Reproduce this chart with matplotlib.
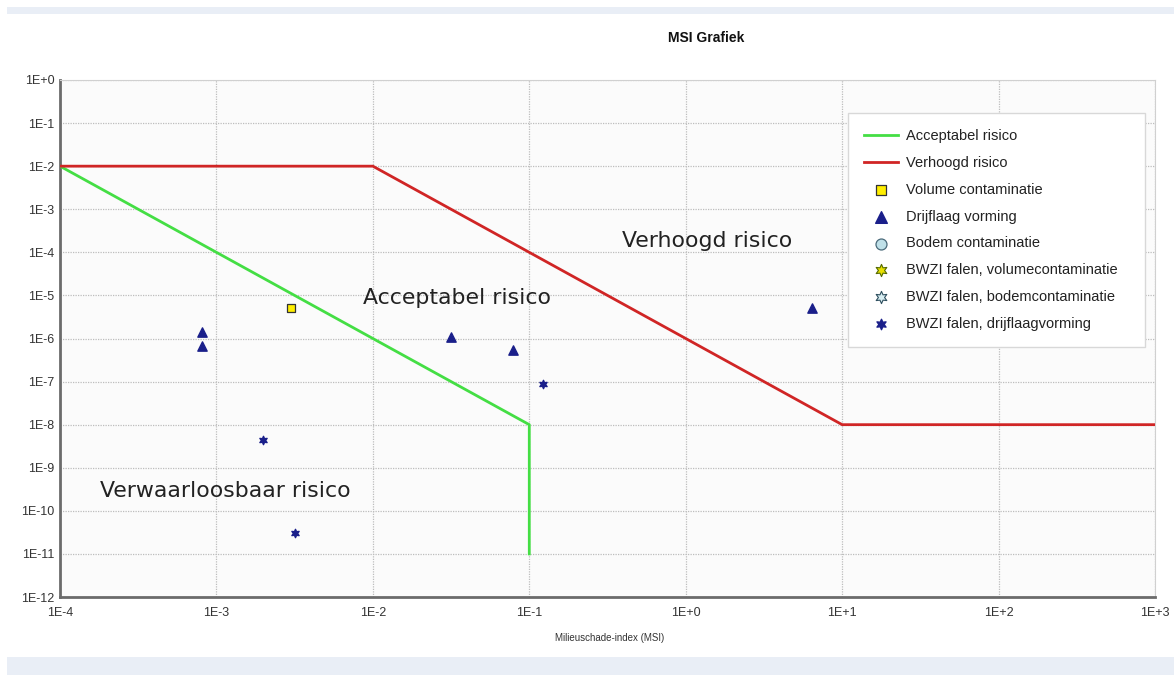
import matplotlib
matplotlib.use("Agg")
import matplotlib.pyplot as plt
from matplotlib.patches import Rectangle
from matplotlib.ticker import FixedLocator, NullLocator

NARROW = ['Liberation Sans', 'DejaVu Sans']

# Risk boundary lines
accept_x = [1e-4, 1e-1, 1e-1]
accept_y = [1e-2, 1e-8, 1e-11]
verhoogd_x = [1e-4, 1e-2, 1e1, 1e3]
verhoogd_y = [1e-2, 1e-2, 1e-8, 1e-8]

# Scenario points
volume_x = [3.0e-3]
volume_y = [5.0e-6]
drijf_x = [8.1e-4, 8.1e-4, 3.16e-2, 7.9e-2, 6.4]
drijf_y = [1.4e-6, 6.7e-7, 1.1e-6, 5.5e-7, 5.1e-6]
bodem_x = []
bodem_y = []
bwzi_vol_x = []
bwzi_vol_y = []
bwzi_bodem_x = []
bwzi_bodem_y = []
bwzi_drijf_x = [0.122, 1.99e-3, 3.2e-3]
bwzi_drijf_y = [8.9e-8, 4.4e-9, 3.1e-11]

x_ticks = [1e-4, 1e-3, 1e-2, 1e-1, 1e0, 1e1, 1e2, 1e3]
x_ticklabels = ['1E-4', '1E-3', '1E-2', '1E-1', '1E+0', '1E+1', '1E+2', '1E+3']
y_ticks = [10.0 ** (-k) for k in range(0, 13)]
y_ticklabels = ['1E+0'] + ['1E-%d' % k for k in range(1, 13)]

W, H = 1174, 675
fig = plt.figure(figsize=(W / 100, H / 100), dpi=100)
fig.patch.set_facecolor('white')

# light bands of the screenshot frame
fig.patches.append(Rectangle((7 / W, 1 - 14 / H), 1 - 7 / W, 7 / H, transform=fig.transFigure,
                             facecolor='#e9eef6', edgecolor='none'))
fig.patches.append(Rectangle((7 / W, 0), 1 - 7 / W, 18 / H, transform=fig.transFigure,
                             facecolor='#e9eef6', edgecolor='none'))

ax = fig.add_axes([60 / W, 1 - 597 / H, (1155 - 60) / W, (597 - 80) / H])
ax.set_facecolor('#fbfbfb')
ax.set_xscale('log')
ax.set_yscale('log')
ax.set_xlim(1e-4, 1e3)
ax.set_ylim(1e-12, 1e0)

ax.xaxis.set_major_locator(FixedLocator(x_ticks))
ax.yaxis.set_major_locator(FixedLocator(y_ticks))
ax.xaxis.set_minor_locator(NullLocator())
ax.yaxis.set_minor_locator(NullLocator())
ax.set_xticklabels(x_ticklabels, fontsize=9, family=NARROW, color='#333333')
ax.set_yticklabels(y_ticklabels, fontsize=9, family=NARROW, color='#333333')
ax.tick_params(axis='both', length=0, pad=4)
ax.tick_params(axis='x', pad=7)

ax.grid(True, which='major', color='#bdbdbd', linestyle=(0, (1, 1)), linewidth=0.9)
ax.set_axisbelow(True)

for s in ['left', 'bottom']:
    ax.spines[s].set_color('#6b6b6b')
    ax.spines[s].set_linewidth(2.0)
for s in ['top', 'right']:
    ax.spines[s].set_color('#d0d0d0')
    ax.spines[s].set_linewidth(0.8)

ax.plot(accept_x, accept_y, color='#44de44', lw=2.0, label='Acceptabel risico', zorder=3)
ax.plot(verhoogd_x, verhoogd_y, color='#d02525', lw=2.0, label='Verhoogd risico', zorder=3)

ax.scatter(volume_x, volume_y, marker='s', s=40, facecolor='#ffee00', edgecolor='#333333',
           linewidth=0.9, label='Volume contaminatie', zorder=4)
ax.scatter(drijf_x, drijf_y, marker='^', s=45, color='#1a1f8a', label='Drijflaag vorming', zorder=4)
ax.scatter(bodem_x, bodem_y, marker='o', s=40, facecolor='#bfe0e8', edgecolor='#4a6a7a',
           linewidth=0.9, label='Bodem contaminatie', zorder=4)
ax.scatter(bwzi_vol_x, bwzi_vol_y, marker=(6, 1, 0), s=50, facecolor='#e8e000', edgecolor='#556b00',
           linewidth=0.8, label='BWZI falen, volumecontaminatie', zorder=4)
ax.scatter(bwzi_bodem_x, bwzi_bodem_y, marker=(6, 1, 0), s=50, facecolor='#d8eef2', edgecolor='#2f4f5f',
           linewidth=0.8, label='BWZI falen, bodemcontaminatie', zorder=4)
ax.scatter(bwzi_drijf_x, bwzi_drijf_y, marker=(6, 1, 0), s=36, color='#1a1f8a',
           label='BWZI falen, drijflaagvorming', zorder=4)

ax.text(0.392, 1.84e-4, 'Verhoogd risico', fontsize=15.8, ha='left', va='center', color='#222222',
        family='DejaVu Sans')
ax.text(8.65e-3, 8.7e-6, 'Acceptabel risico', fontsize=15.8, ha='left', va='center', color='#222222',
        family='DejaVu Sans')
ax.text(1.8e-4, 2.9e-10, 'Verwaarloosbaar risico', fontsize=15.8, ha='left', va='center', color='#222222',
        family='DejaVu Sans')

leg = ax.legend(loc='upper left', bbox_to_anchor=(0.7196, 0.487, 0.2713, 0.449), mode='expand',
                fancybox=False, framealpha=1, markerscale=1.25,
                edgecolor='#d8d8d8', prop={'family': NARROW, 'size': 10.5}, handlelength=2.3,
                handletextpad=0.6, labelspacing=0.88, borderpad=1.1, borderaxespad=0)
for t in leg.get_texts():
    t.set_color('#222222')
leg.get_frame().set_linewidth(1.0)

fig.text(706 / W, 1 - 38 / H, 'MSI Grafiek', fontsize=10, fontweight='bold', family=NARROW,
         ha='center', va='center', color='#111111')
fig.text(610 / W, 1 - 638 / H, 'Milieuschade-index (MSI)', fontsize=7, family=NARROW,
         ha='center', va='center', color='#333333')

fig.savefig('out.png', dpi=100)
